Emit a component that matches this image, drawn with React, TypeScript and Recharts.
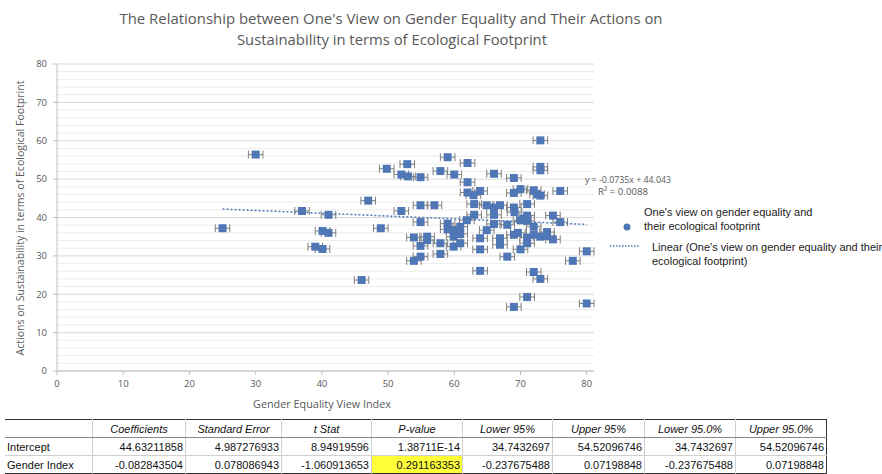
import {
  ScatterChart,
  Scatter,
  XAxis,
  YAxis,
  ZAxis,
  CartesianGrid,
  ErrorBar,
} from "recharts";

// gender equality view index (x) and ecological footprint actions (y)
const genderIndex = [
  30.0, 49.8, 47.0, 37.0, 41.0, 25.0, 40.1, 41.0, 48.9, 39.0, 40.1, 46.0,
  73.0, 59.0, 52.9, 62.0, 73.0, 73.0, 52.0, 53.0, 54.9, 57.9, 60.0, 66.0,
  69.0, 62.0, 62.0, 62.9, 63.9, 69.0, 70.0, 72.0, 72.5, 73.0, 76.0, 54.9,
  57.0, 52.0, 63.0, 64.9, 66.0, 66.9, 69.0, 69.1, 71.0, 63.0, 66.0, 71.0,
  70.5, 70.0, 71.0, 74.9, 76.0, 61.9, 54.9, 59.0, 59.0, 59.9, 60.9, 66.0,
  68.0, 72.0, 64.9, 60.9, 59.9, 53.9, 55.9, 55.9, 54.9, 57.9, 60.9, 59.9,
  63.9, 63.9, 66.9, 66.9, 69.0, 69.6, 71.0, 71.0, 70.0, 72.0, 73.0, 74.0,
  74.0, 74.9, 57.9, 54.9, 53.9, 68.0, 77.9, 80.0, 63.9, 72.0, 73.0, 71.0,
  69.0, 80.0,
];
const footprint = [
  56.4, 52.7, 44.4, 41.7, 40.7, 37.2, 36.5, 36.0, 37.2, 32.4, 31.8, 23.7,
  60.1, 55.7, 53.9, 54.2, 53.2, 52.3, 51.2, 50.7, 50.5, 52.1, 51.2, 51.4,
  50.3, 49.2, 46.5, 45.8, 46.9, 46.4, 47.4, 47.1, 46.0, 45.7, 46.9, 43.2,
  43.2, 41.7, 43.5, 43.2, 42.6, 43.2, 42.6, 41.4, 43.5, 40.7, 40.7, 40.5,
  39.7, 39.3, 39.1, 40.5, 38.8, 39.3, 38.8, 38.4, 36.9, 36.7, 37.6, 38.3,
  38.1, 37.6, 36.7, 35.7, 35.0, 34.8, 35.0, 34.1, 32.6, 33.3, 33.3, 32.4,
  34.6, 31.7, 34.6, 32.9, 35.5, 36.0, 34.8, 33.3, 31.7, 35.5, 35.0, 36.2,
  35.2, 34.3, 30.5, 29.8, 28.7, 29.8, 28.7, 31.2, 26.1, 25.8, 24.0, 19.3,
  16.7, 17.6,
];
const errorX = 1.1;

// linear trendline endpoints (y = -0.0735x + 44.043)
const trendX = [25, 80];
const trendY = [42.2, 38.2];

const xTicks = [0, 10, 20, 30, 40, 50, 60, 70, 80];
const yTicks = [0, 10, 20, 30, 40, 50, 60, 70, 80];
const yMinorTicks = [
  2, 4, 6, 8, 12, 14, 16, 18, 22, 24, 26, 28, 32, 34, 36, 38, 42, 44, 46, 48,
  52, 54, 56, 58, 62, 64, 66, 68, 72, 74, 76, 78,
];
const yMax = 80;

const tableHeaders = [
  "",
  "Coefficients",
  "Standard Error",
  "t Stat",
  "P-value",
  "Lower 95%",
  "Upper 95%",
  "Lower 95.0%",
  "Upper 95.0%",
];
const interceptRow = [
  "Intercept",
  "44.63211858",
  "4.987276933",
  "8.94919596",
  "1.38711E-14",
  "34.7432697",
  "54.52096746",
  "34.7432697",
  "54.52096746",
];
const genderRow = [
  "Gender Index",
  "-0.082843504",
  "0.078086943",
  "-1.060913653",
  "0.291163353",
  "-0.237675488",
  "0.07198848",
  "-0.237675488",
  "0.07198848",
];
const colWidths = [83, 88, 91, 85, 86, 85, 87, 86, 86];

const points = genderIndex.map((x, i) => ({ x, y: footprint[i], ex: errorX }));
const trend = trendX.map((x, i) => ({ x, y: trendY[i] }));

const BLUE = "#4F77B5";
const GREY = "#595959";
const calibri = "'Open Sans', 'Liberation Sans', sans-serif";

const cellStyle = (ci: number, ri: number): React.CSSProperties => ({
  width: colWidths[ci],
  padding: "0 2px",
  height: 17,
  textAlign: ri === 0 ? "center" : ci === 0 ? "left" : "right",
  fontStyle: ri === 0 ? "italic" : "normal",
  borderLeft: ci === 0 ? "none" : "1px solid #d0d0d0",
  borderBottom: ri === 0 ? "1px solid #888" : ri === 1 ? "1px solid #d0d0d0" : "none",
  background: ri === 2 && ci === 4 ? "#FFFF3A" : "transparent",
  whiteSpace: "nowrap",
  overflow: "hidden",
});

// minor horizontal gridlines every 2 units
// eslint-disable-next-line @typescript-eslint/no-explicit-any
const minorRows = ({ yAxis, offset }: any) =>
  yMinorTicks.map((t) => {
    const s = yAxis?.scale;
    if (typeof s === "function") return s(t);
    if (s && typeof s.map === "function") return s.map(t);
    return offset.top + offset.height * (1 - t / yMax);
  });

export default function App() {
  return (
    <div style={{ position: "absolute", left: 0, top: 0, width: 882, height: 474, background: "#fff" }}>
      <ScatterChart width={882} height={474} margin={{ top: 64, right: 288, bottom: 83, left: 27 }}>
        <CartesianGrid vertical={false} stroke="#ececec" horizontalCoordinatesGenerator={minorRows} />
        <CartesianGrid vertical={false} stroke="#d9d9d9" />
        <XAxis
          type="number"
          dataKey="x"
          domain={[0, 80]}
          ticks={xTicks}
          height={20}
          tickSize={4}
          tickMargin={5}
          stroke="#bfbfbf"
          tick={{ fill: GREY, fontSize: 9.5, fontFamily: calibri }}
        />
        <YAxis
          type="number"
          dataKey="y"
          domain={[0, yMax]}
          ticks={yTicks}
          width={30}
          tickSize={4}
          tickMargin={6}
          stroke="#bfbfbf"
          tick={{ fill: GREY, fontSize: 9.5, fontFamily: calibri }}
        />
        <ZAxis range={[28, 28]} />
        <Scatter data={points} fill={BLUE} shape="square" isAnimationActive={false}>
          <ErrorBar dataKey="ex" direction="x" width={4} stroke="#7f7f7f" strokeWidth={1} />
        </Scatter>
        <Scatter
          data={trend}
          line={{ stroke: BLUE, strokeWidth: 1.5, strokeDasharray: "2 2" }}
          shape={() => <g />}
          isAnimationActive={false}
        />
      </ScatterChart>

      <svg width={882} height={474} style={{ position: "absolute", left: 0, top: 0, pointerEvents: "none" }}>
        <g fill={GREY} fontFamily={calibri}>
          <text x={391} y={24} fontSize={14} textAnchor="middle" textLength={543} lengthAdjust="spacingAndGlyphs">
            The Relationship between One's View on Gender Equality and Their Actions on
          </text>
          <text x={392} y={45} fontSize={14} textAnchor="middle" textLength={310} lengthAdjust="spacingAndGlyphs">
            Sustainability in terms of Ecological Footprint
          </text>
          <text x={322} y={408} fontSize={10.5} textAnchor="middle" textLength={138} lengthAdjust="spacingAndGlyphs">
            Gender Equality View Index
          </text>
          <text
            transform="translate(24 218) rotate(-90)"
            fontSize={10.5}
            textAnchor="middle"
            textLength={275}
            lengthAdjust="spacingAndGlyphs"
          >
            Actions on Sustainability in terms of Ecological Footprint
          </text>
          <text x={585} y={183} fontSize={9.5} textLength={86} lengthAdjust="spacingAndGlyphs">
            y = -0.0735x + 44.043
          </text>
          <text x={598} y={195} fontSize={9.5} textLength={50} lengthAdjust="spacingAndGlyphs">
            R² = 0.0088
          </text>
        </g>
        <g fill="#222" fontFamily="'Liberation Sans', Arial, sans-serif" fontSize={11}>
          <circle cx={627} cy={227} r={3.5} fill={BLUE} />
          <text x={644} y={216}>One's view on gender equality and</text>
          <text x={644} y={230}>their ecological footprint</text>
          <line x1={610} y1={246} x2={640} y2={246} stroke={BLUE} strokeWidth={1.5} strokeDasharray="1.5 1.5" />
          <text x={652} y={251}>Linear (One's view on gender equality and their</text>
          <text x={652} y={265}>ecological footprint)</text>
        </g>
      </svg>

      <table
        style={{
          position: "absolute",
          left: 5,
          top: 419,
          borderCollapse: "collapse",
          tableLayout: "fixed",
          fontFamily: "'Liberation Sans Narrow', 'Liberation Sans', Arial, sans-serif",
          fontSize: 11,
          color: "#111",
          borderTop: "1.5px solid #333",
          borderBottom: "1.5px solid #333",
          borderRight: "1px solid #333",
        }}
      >
        <tbody>
          {[tableHeaders, interceptRow, genderRow].map((row, ri) => (
            <tr key={ri}>
              {row.map((cell, ci) => (
                <td key={ci} style={cellStyle(ci, ri)}>
                  {cell}
                </td>
              ))}
            </tr>
          ))}
        </tbody>
      </table>
    </div>
  );
}
